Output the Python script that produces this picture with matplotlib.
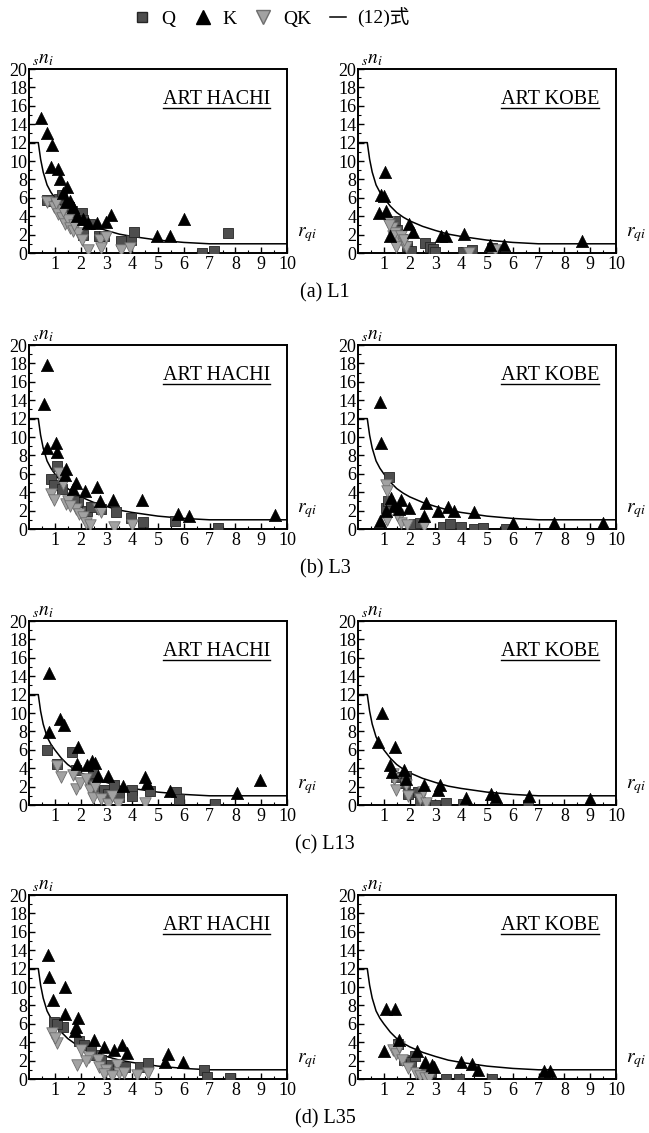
import matplotlib
matplotlib.use('Agg')
import matplotlib.pyplot as plt
from matplotlib.lines import Line2D
import numpy as np

plt.rcParams['font.family'] = ['Liberation Serif', 'Noto Sans CJK JP']
plt.rcParams['mathtext.fontset'] = 'stix'

# ---------------- data ----------------
# curve of eq. (12)
CURVE_R = [0.05, 0.36, 0.45, 0.55, 0.7, 0.85, 1.0, 1.25, 1.5, 1.75, 2.0, 2.5, 3.0, 3.5, 4.0, 5.0, 6.0, 7.0, 10.0]
CURVE_N = [12.0, 12.0, 10.2, 8.8, 7.4, 6.6, 6.0, 5.1, 4.4, 3.9, 3.5, 2.9, 2.45, 2.05, 1.8, 1.4, 1.15, 1.0, 1.0]

L1_HACHI_K = [(0.48,14.7),(0.71,13.0),(0.91,11.7),(0.87,9.4),(1.13,9.1),(1.19,8.0),(1.49,7.2),(1.3,6.5),(1.6,5.6),
              (1.7,5.0),(1.45,5.5),(1.85,4.0),(2.1,3.7),(2.3,3.3),(2.62,3.3),(3.0,3.4),(3.17,4.1),(4.96,1.8),(5.45,1.8),(6.0,3.7)]
L1_HACHI_Q = [(0.68,5.8),(0.85,5.7),(1.17,5.9),(1.26,6.3),(1.55,5.0),(1.65,4.6),(2.04,4.4),(2.08,3.6),(2.1,2.0),(2.36,3.1),
              (2.7,1.8),(2.9,1.8),(3.56,1.3),(3.95,1.4),(4.08,2.3),(6.7,0.0),(7.17,0.2),(7.7,2.2)]
L1_HACHI_QK = [(0.68,5.5),(0.95,5.0),(1.05,5.4),(1.13,4.2),(1.26,3.8),(1.39,3.1),(1.5,3.6),(1.58,2.7),(1.7,2.4),(1.9,2.2),
               (2.04,1.45),(2.3,0.35),(2.75,1.45),(2.8,0.5),(3.0,1.7),(3.55,0.3),(3.9,0.5),(1.3,4.6),(1.75,3.0)]

L1_KOBE_K = [(1.06,8.8),(0.9,6.3),(1.0,6.2),(0.81,4.3),(1.1,4.6),(1.23,1.8),(1.97,3.2),(2.13,2.3),(3.2,1.9),(3.4,1.9),
             (4.1,2.1),(5.1,0.9),(5.65,0.9),(8.7,1.3)]
L1_KOBE_Q = [(1.42,3.5),(1.5,2.5),(1.7,1.5),(1.9,0.8),(2.06,0.2),(2.6,1.1),(2.8,0.7),(2.9,0.4),(3.0,0.1),(4.06,0.1),
             (4.4,0.3),(5.2,0.5),(1.6,2.0)]
L1_KOBE_QK = [(1.16,3.4),(1.3,2.7),(1.42,2.2),(1.55,1.5),(1.74,1.1),(1.87,0.7),(1.48,0.7),(1.2,3.0),(1.35,1.8),(1.65,1.8),
              (1.8,1.4),(4.3,0.0),(5.3,0.3)]

L3_HACHI_K = [(0.71,17.8),(0.58,13.6),(0.71,8.8),(1.04,9.4),(1.08,8.4),(1.43,6.5),(1.39,5.9),(1.82,5.0),(1.69,4.3),(2.18,4.1),
              (2.62,4.6),(2.74,3.0),(3.25,3.1),(4.38,3.2),(5.78,1.6),(6.2,1.4),(9.55,1.5)]
L3_HACHI_Q = [(0.84,5.4),(0.95,4.8),(1.1,6.8),(1.27,4.3),(1.88,2.9),(2.25,2.0),(2.4,2.4),(2.8,2.2),(3.38,1.9),(3.94,1.2),
              (4.42,0.8),(5.65,0.9),(7.34,0.1),(1.75,3.0)]
L3_HACHI_QK = [(0.84,3.8),(0.97,3.2),(1.17,6.1),(1.43,2.7),(1.3,4.9),(1.82,2.2),(1.95,1.6),(2.08,1.3),(2.2,0.7),(2.38,0.4),
               (2.66,2.2),(2.8,1.8),(3.3,0.2),(4.0,0.4),(1.5,3.0),(1.6,2.5)]

L3_KOBE_K = [(0.85,13.8),(0.91,9.4),(0.87,0.9),(1.09,2.0),(1.39,2.5),(1.29,3.4),(1.6,2.2),(1.65,3.2),(1.97,2.3),(2.65,2.8),
             (2.55,1.4),(3.1,2.0),(3.48,2.4),(3.74,2.0),(4.5,1.8),(6.0,0.6),(7.6,0.6),(9.5,0.7)]
L3_KOBE_Q = [(1.2,5.7),(1.07,2.3),(2.16,0.5),(2.42,0.7),(3.3,0.2),(3.57,0.5),(4.0,0.2),(4.5,0.0),(4.86,0.1),(5.75,0.0),(1.15,3.0)]
L3_KOBE_QK = [(1.07,4.8),(1.13,4.1),(1.13,1.0),(1.58,1.2),(1.65,0.6),(1.9,0.4),(2.55,0.3),(1.5,1.5)]

L13_HACHI_K = [(0.78,14.3),(0.78,7.9),(1.21,9.4),(1.34,8.7),(1.88,6.3),(1.86,4.5),(2.25,4.3),(2.43,4.8),(2.56,4.6),(2.66,3.2),
               (3.08,3.2),(3.64,2.1),(4.48,3.0),(4.57,2.4),(5.45,1.5),(8.05,1.3),(8.95,2.7)]
L13_HACHI_Q = [(0.71,6.0),(1.65,5.8),(1.82,3.8),(2.47,3.5),(2.47,2.3),(2.5,1.6),(2.92,1.6),(3.05,1.2),(3.3,2.2),(3.5,0.9),
               (4.0,1.6),(4.0,1.0),(4.7,1.5),(5.7,1.4),(5.8,0.6),(7.2,0.1),(1.1,4.5)]
L13_HACHI_QK = [(1.1,4.2),(1.23,3.0),(1.69,3.3),(1.82,1.7),(1.98,2.4),(2.38,1.6),(2.47,0.8),(2.8,0.6),(3.05,0.1),(3.45,0.1),
                (4.5,0.2),(2.57,2.0),(2.2,2.8),(3.2,1.0)]

L13_KOBE_K = [(0.93,10.0),(0.77,6.8),(1.42,6.3),(1.23,4.3),(1.33,3.6),(1.8,3.8),(1.87,2.8),(2.54,2.2),(3.1,1.6),(3.19,2.2),
              (4.19,0.8),(5.14,1.2),(5.33,0.9),(6.62,1.0),(9.0,0.6)]
L13_KOBE_Q = [(1.46,3.0),(1.81,2.4),(1.94,1.2),(2.32,1.4),(2.4,0.3),(2.65,0.2),(3.0,0.0),(3.4,0.2),(4.06,0.1),(6.6,0.0),(1.85,3.2)]
L13_KOBE_QK = [(1.4,2.8),(1.46,1.6),(1.87,2.2),(1.94,1.0),(2.4,0.7),(2.65,0.2),(2.5,1.4),(1.35,3.4)]

L35_HACHI_K = [(0.75,13.5),(0.78,11.1),(0.94,8.6),(1.39,10.0),(1.39,7.1),(1.88,6.6),(1.82,5.7),(2.53,4.2),(2.9,3.5),(3.29,3.2),
               (3.6,3.7),(3.8,2.8),(5.39,2.7),(5.26,1.9),(5.97,1.8),(1.8,5.2)]
L35_HACHI_Q = [(0.97,6.2),(1.3,5.7),(1.95,4.1),(2.14,3.7),(2.6,2.6),(2.8,2.1),(3.18,1.5),(3.44,1.3),(3.74,1.3),(4.29,1.3),
               (4.61,1.7),(6.8,1.0),(6.9,0.2),(7.8,0.1),(1.1,6.0),(2.4,3.0)]
L35_HACHI_QK = [(0.91,5.0),(1.1,3.9),(1.86,1.5),(2.0,3.1),(2.34,2.4),(2.66,2.1),(2.7,1.3),(3.0,1.0),(3.4,1.5),(3.5,0.6),
                (3.7,0.6),(4.2,0.4),(4.6,0.6),(1.0,4.5),(2.2,2.0),(2.9,0.5),(3.2,0.3)]

L35_KOBE_K = [(1.1,7.6),(1.42,7.6),(1.0,3.0),(1.6,4.2),(2.3,3.0),(2.6,1.9),(2.85,1.5),(2.95,1.3),(4.0,1.8),(4.4,1.6),
              (4.65,1.0),(7.2,0.9),(7.45,0.9)]
L35_KOBE_Q = [(1.55,3.8),(1.8,2.1),(2.06,1.9),(2.2,2.5),(2.64,0.6),(2.84,0.8),(3.4,0.0),(3.9,0.0),(5.2,0.0)]
L35_KOBE_QK = [(1.35,3.2),(1.48,2.7),(1.7,2.1),(1.94,1.2),(2.26,0.65),(2.39,0.3),(2.58,0.1),(2.77,0.1),(1.6,3.5)]

SITES = ['ART HACHI', 'ART KOBE']
CAPTIONS = ['(a) L1', '(b) L3', '(c) L13', '(d) L35']
XTICKS = [1, 2, 3, 4, 5, 6, 7, 8, 9, 10]
YTICKS = [0, 2, 4, 6, 8, 10, 12, 14, 16, 18, 20]
LEGEND_LABELS = ['Q', 'K', 'QK', '(12)式']

PANELS = [
    [(L1_HACHI_Q, L1_HACHI_K, L1_HACHI_QK), (L1_KOBE_Q, L1_KOBE_K, L1_KOBE_QK)],
    [(L3_HACHI_Q, L3_HACHI_K, L3_HACHI_QK), (L3_KOBE_Q, L3_KOBE_K, L3_KOBE_QK)],
    [(L13_HACHI_Q, L13_HACHI_K, L13_HACHI_QK), (L13_KOBE_Q, L13_KOBE_K, L13_KOBE_QK)],
    [(L35_HACHI_Q, L35_HACHI_K, L35_HACHI_QK), (L35_KOBE_Q, L35_KOBE_K, L35_KOBE_QK)],
]

# ---------------- styles ----------------
Q_COL, Q_EDGE = '#4e4e4e', '#262626'
QK_COL, QK_EDGE = '#a2a2a2', '#6e6e6e'
Q_STYLE = dict(marker='s', s=50, facecolor=Q_COL, edgecolor=Q_EDGE, linewidths=0.6)
K_STYLE = dict(marker='^', s=78, facecolor='black', edgecolor='black', linewidths=0.5)
QK_STYLE = dict(marker='v', s=68, facecolor=QK_COL, edgecolor=QK_EDGE, linewidths=0.6)

W, H = 649, 1133
fig = plt.figure(figsize=(W / 100, H / 100), dpi=100)
col_left = [29, 358]
col_w = 258
row_top = [69, 345, 621, 895]
row_h = 184

axes_titles = []
for r in range(4):
    for c in range(2):
        l, t = col_left[c], row_top[r]
        ax = fig.add_axes([l / W, 1 - (t + row_h) / H, col_w / W, row_h / H])
        q, k, qk = PANELS[r][c]
        ax.plot(CURVE_R, CURVE_N, color='black', lw=1.1, zorder=2)
        ax.scatter([p[0] for p in q], [p[1] for p in q], zorder=3, **Q_STYLE)
        ax.scatter([p[0] for p in qk], [p[1] for p in qk], zorder=4, **QK_STYLE)
        ax.scatter([p[0] for p in k], [p[1] for p in k], zorder=5, **K_STYLE)
        ax.set_xlim(0, 10)
        ax.set_ylim(0, 20)
        ax.set_xticks(XTICKS)
        ax.set_xticks(np.arange(0.5, 10, 0.5), minor=True)
        ax.set_yticks(YTICKS)
        ax.set_yticks(np.arange(1, 20, 1), minor=True)
        ax.tick_params(axis='both', which='major', direction='in', length=4, width=1.0,
                       labelsize=13, pad=2)
        ax.tick_params(axis='y', which='major', pad=1)
        ax.tick_params(axis='both', which='minor', direction='in', length=2.5, width=0.8)
        for sp in ax.spines.values():
            sp.set_linewidth(1.4)
        ax.text(0.012, 1.005, r'$_{s}n_{i}$', transform=ax.transAxes, fontsize=14,
                ha='left', va='bottom')
        ax.text(1.04, 0.1, r'$r_{qi}$', transform=ax.transAxes, fontsize=14,
                ha='left', va='center')
        tt = ax.text(0.935, 0.835, SITES[c], transform=ax.transAxes, fontsize=14.5,
                     ha='right', va='center')
        axes_titles.append((ax, tt))
    fig.text(325 / W, 1 - (row_top[r] + row_h + 40) / H, CAPTIONS[r], fontsize=14.5,
             ha='center', va='center')

# underline the site labels
fig.canvas.draw()
renderer = fig.canvas.get_renderer()
for ax, tt in axes_titles:
    bb = tt.get_window_extent(renderer=renderer).transformed(ax.transAxes.inverted())
    ax.plot([bb.x0, bb.x1], [bb.y0 + 0.004, bb.y0 + 0.004], transform=ax.transAxes,
            color='black', lw=1.0, clip_on=False)

handles = [
    Line2D([], [], ls='none', marker='s', markersize=7.5, markerfacecolor=Q_COL, markeredgecolor=Q_EDGE),
    Line2D([], [], ls='none', marker='^', markersize=9.5, markerfacecolor='black', markeredgecolor='black'),
    Line2D([], [], ls='none', marker='v', markersize=9.5, markerfacecolor=QK_COL, markeredgecolor=QK_EDGE),
    Line2D([], [], color='black', lw=1.1),
]
fig.legend(handles, LEGEND_LABELS, loc='center', bbox_to_anchor=(272 / W, 1 - 18 / H), ncol=4,
           frameon=False, fontsize=14, handlelength=0.8, handletextpad=0.6, columnspacing=1.0)

fig.savefig('out.png', dpi=100, facecolor='white')
